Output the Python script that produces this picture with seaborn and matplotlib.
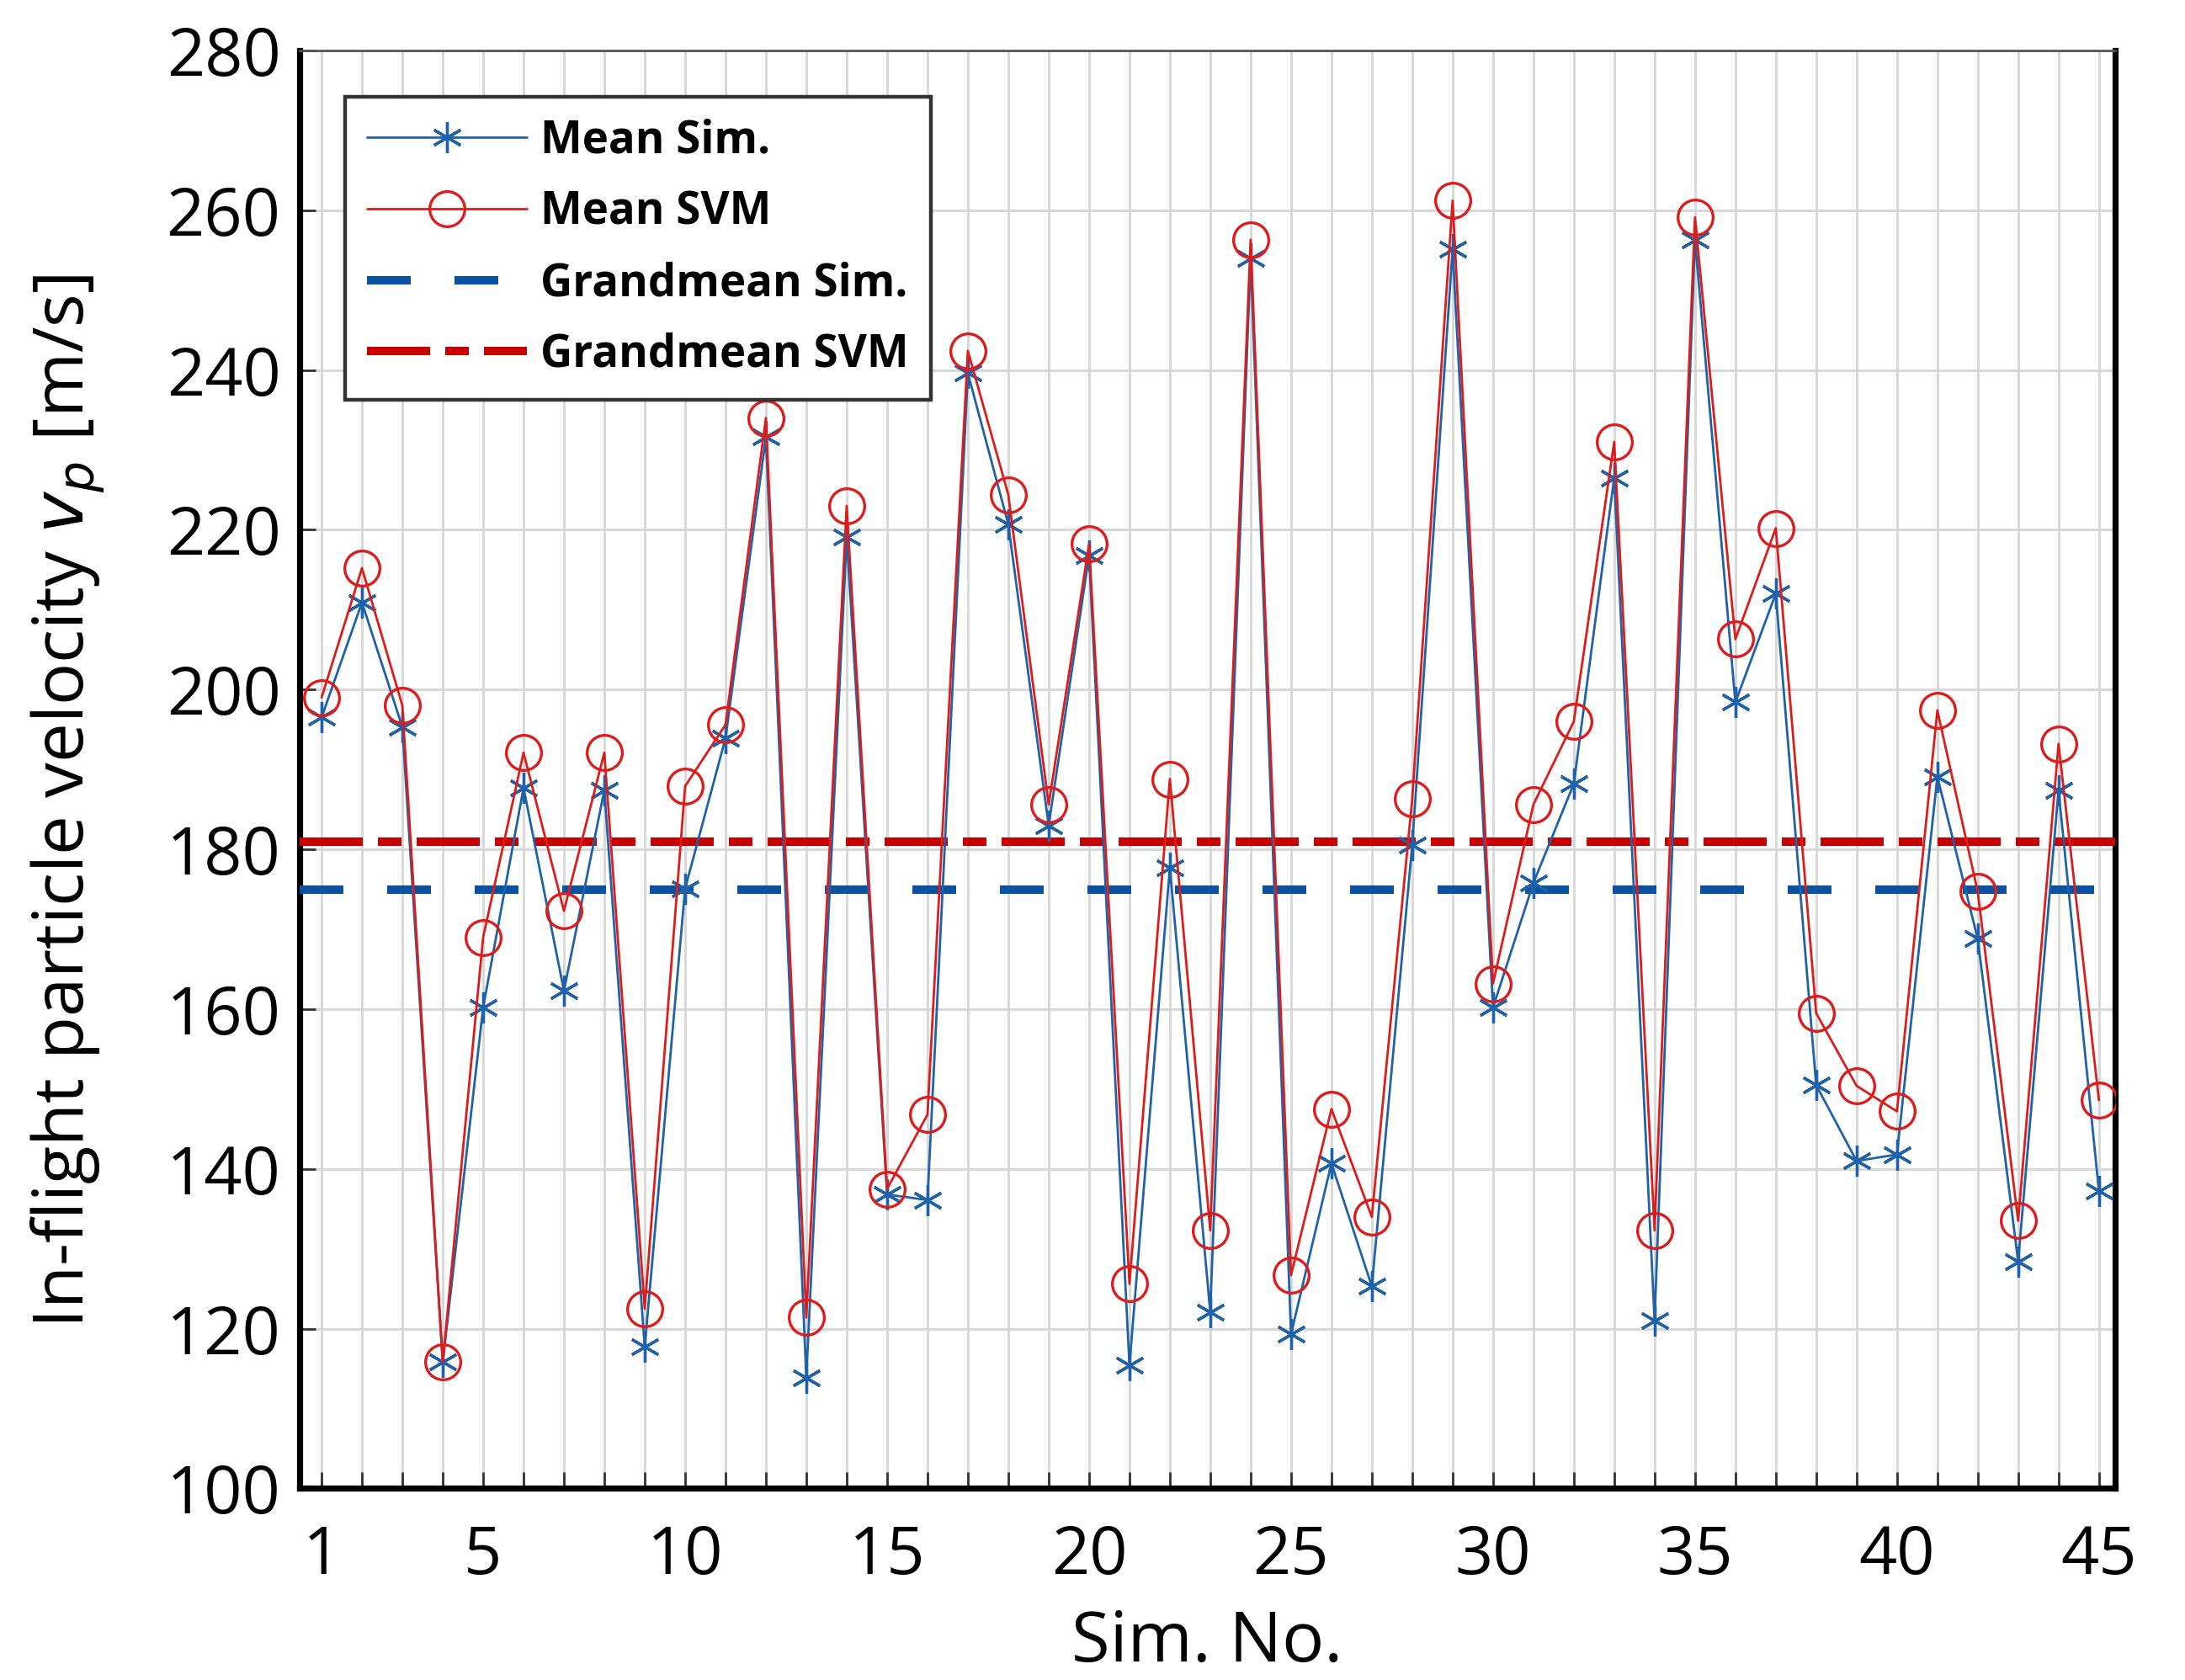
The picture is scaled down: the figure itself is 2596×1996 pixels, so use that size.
import matplotlib
matplotlib.use("Agg")
import matplotlib.pyplot as plt
import numpy as np
import pandas as pd
import seaborn as sns

# values
sim_no = list(range(1, 46))
mean_sim = [196.5, 210.9, 195.3, 115.8, 160.2, 187.7, 162.3, 187.4, 117.7, 175.1,
            193.9, 231.6, 113.9, 219.1, 136.8, 136.1, 239.6, 220.7, 183.0, 216.8,
            115.4, 177.7, 122.1, 254.0, 119.3, 140.7, 125.3, 180.5, 255.1, 160.2,
            175.8, 188.2, 226.5, 121.0, 256.3, 198.4, 212.0, 150.5, 141.0, 141.8,
            189.1, 168.8, 128.4, 187.4, 137.2]
mean_svm = [199.0, 215.2, 198.0, 115.8, 169.0, 192.1, 172.3, 192.1, 122.5, 187.9,
            195.6, 234.0, 121.4, 223.0, 137.5, 146.8, 242.4, 224.4, 185.6, 218.2,
            125.6, 188.8, 132.3, 256.3, 126.7, 147.5, 134.0, 186.3, 261.2, 163.2,
            185.6, 196.0, 231.0, 132.3, 259.1, 206.3, 220.2, 159.5, 150.4, 147.2,
            197.4, 174.7, 133.5, 193.2, 148.6]
grandmean_sim = 175.0
grandmean_svm = 181.0
xtick_labels = [1, 5, 10, 15, 20, 25, 30, 35, 40, 45]

BLUE = "#1f62aa"
BLUE_DARK = "#0a52a0"
RED = "#dd1c1c"
RED_DARK = "#c80000"

sns.set_theme(style="white")
plt.rcParams["font.family"] = ["Open Sans", "DejaVu Sans"]
plt.rcParams["mathtext.fontset"] = "dejavusans"
plt.rcParams["text.color"] = "black"
plt.rcParams["axes.labelcolor"] = "black"
plt.rcParams["xtick.color"] = "black"
plt.rcParams["ytick.color"] = "black"

df = pd.DataFrame({"sim": sim_no, "mean_sim": mean_sim, "mean_svm": mean_svm})

fig = plt.figure(figsize=(12.98, 9.98), dpi=200)
ax = fig.add_axes([0.137, 0.114, 0.831, 0.856])

sns.lineplot(data=df, x="sim", y="mean_sim", ax=ax, color=BLUE, lw=1.0,
             marker=(6, 2, 0), markersize=13, markeredgewidth=1.2,
             markeredgecolor=BLUE, label="Mean Sim.", zorder=4)
sns.lineplot(data=df, x="sim", y="mean_svm", ax=ax, color=RED, lw=1.0,
             marker="o", markersize=15, markerfacecolor="none",
             markeredgewidth=1.2, markeredgecolor=RED, label="Mean SVM", zorder=5)
ax.axhline(grandmean_sim, color=BLUE_DARK, lw=3.6, ls=(0, (5.2, 5.2)),
           label="Grandmean Sim.", zorder=3)
ax.axhline(grandmean_svm, color=RED_DARK, lw=3.6, ls=(0, (7.5, 1.8, 2.8, 1.8)),
           label="Grandmean SVM", zorder=3)

ax.set_xlim(0.45, 45.4)
ax.set_ylim(100, 280)
ax.set_xticks(xtick_labels)
ax.set_xticks(sim_no, minor=True)
ax.set_yticks(np.arange(100, 281, 20))
ax.grid(True, which="both", color="#d6d6d6", lw=1.0)
ax.set_axisbelow(True)
ax.tick_params(axis="both", which="both", direction="in", length=7, width=1.0,
               color="#333333", labelsize=28.5, pad=8)
ax.tick_params(axis="x", which="both", bottom=True, top=False)
ax.tick_params(axis="y", left=True, right=False)
ax.tick_params(axis="x", which="major", pad=15)

for side in ("left", "bottom", "right"):
    ax.spines[side].set_linewidth(2.6)
    ax.spines[side].set_color("black")
ax.spines["top"].set_linewidth(1.0)
ax.spines["top"].set_color("#555555")

ax.set_xlabel("Sim. No.", fontsize=30, labelpad=8)
ax.set_ylabel("In-flight particle velocity $v_p$ [m/s]", fontsize=30)
ax.yaxis.set_label_coords(-0.106, 0.478)

leg = ax.legend(loc="upper left", bbox_to_anchor=(0.025, 0.968), borderaxespad=0,
                prop={"weight": "bold", "size": 19}, handlelength=3.6,
                handletextpad=0.3, labelspacing=0.58, borderpad=0.5,
                frameon=True, fancybox=False, framealpha=1.0)
leg.get_frame().set_edgecolor("#333333")
leg.get_frame().set_linewidth(1.6)

fig.savefig("out.png", dpi=200)
